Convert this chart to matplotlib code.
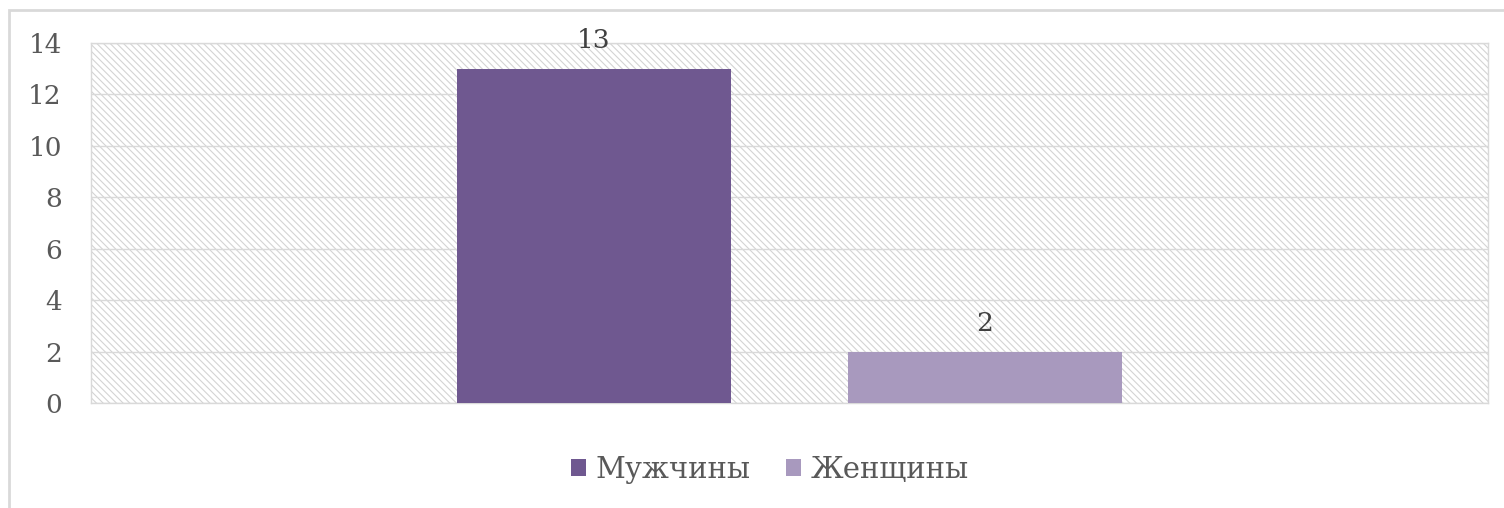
import matplotlib
matplotlib.use("Agg")
import matplotlib.pyplot as plt
from matplotlib.patches import Rectangle
import numpy as np

plt.rcParams['font.family'] = ['DejaVu Serif']
plt.rcParams['hatch.color'] = '#d4d4d4'
plt.rcParams['hatch.linewidth'] = 0.8

series = ["Мужчины", "Женщины"]
values = [13, 2]
colors = ["#6f5890", "#a899be"]
yticks = [0, 2, 4, 6, 8, 10, 12, 14]

fig = plt.figure(figsize=(15.04, 5.08), dpi=100)
ax = fig.add_axes([91/1504, 1-403/508, (1488-91)/1504, (403-43)/508])

# outer chart border
fig.patches.append(Rectangle((9/1504, -0.05), 1.1, 1-10/508+0.05, transform=fig.transFigure,
                             fill=False, edgecolor='#d9d9d9', linewidth=2, zorder=0))

# hatched plot background
ax.add_patch(Rectangle((0, 0), 1, 1, transform=ax.transAxes, facecolor='white',
                       edgecolor='#d4d4d4', hatch='\\\\\\\\\\', linewidth=0, zorder=0))

width = 0.196
offsets = [-0.14, 0.14]
for name, v, c, off in zip(series, values, colors, offsets):
    ax.bar(off, v, width=width, color=c, label=name, zorder=3)
    ax.annotate(str(v), (off, v), xytext=(0, 11), textcoords='offset points',
                ha='center', va='bottom', fontsize=19, color='#404040')

ax.set_xlim(-0.5, 0.5)
ax.set_ylim(0, 14)
ax.set_yticks(yticks)
ax.set_xticks([])
ax.yaxis.grid(True, color='#d9d9d9', linewidth=1, zorder=1)
ax.set_axisbelow(True)
for s in ax.spines.values():
    s.set_color('#d9d9d9')
    s.set_linewidth(1)
ax.tick_params(axis='y', length=0, pad=21, labelsize=19, labelcolor='#595959')

fig.legend(loc='center', bbox_to_anchor=(770/1504, 1-470/508), ncol=2, frameon=False,
           fontsize=21, handlelength=0.5, handleheight=0.5, handletextpad=0.35,
           columnspacing=1.2, labelcolor='#595959')

fig.savefig("out.png", dpi=100)
